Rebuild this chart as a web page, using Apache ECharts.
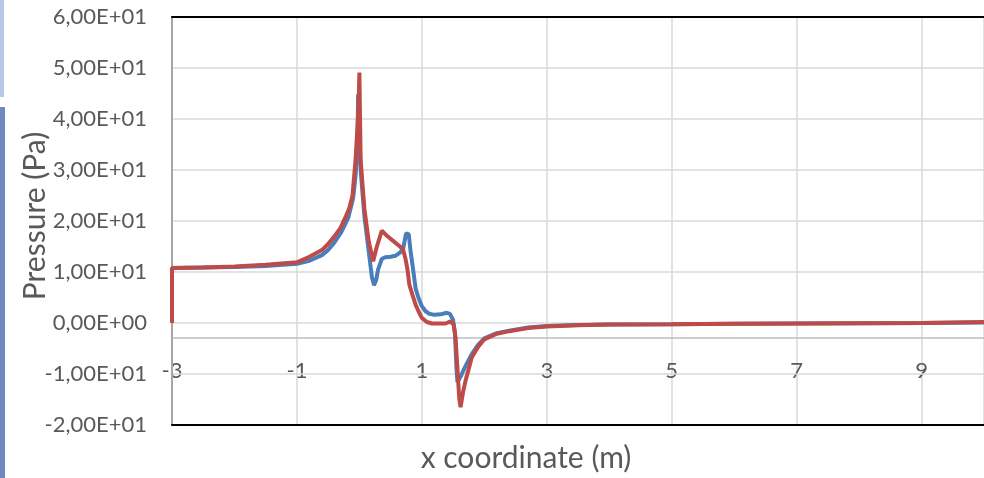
<!DOCTYPE html>
<html>
<head>
<meta charset="utf-8">
<script src="https://cdn.jsdelivr.net/npm/echarts@6/dist/echarts.min.js"></script>
<style>html,body{margin:0;padding:0;background:#fff;}#c{width:984px;height:478px;}</style>
</head>
<body>
<div id="c"></div>
<script>
// Series 1 (blue)
const blueX = [-3, -3, -2.5, -2, -1.5, -1, -0.8, -0.6, -0.5, -0.4, -0.3, -0.25, -0.18, -0.15, -0.1, -0.06, -0.03, -0.02, 0.02, 0.08, 0.15, 0.2, 0.235, 0.27, 0.3, 0.36, 0.42, 0.5, 0.58, 0.65, 0.7, 0.73, 0.75, 0.79, 0.82, 0.85, 0.9, 0.95, 1.0, 1.06, 1.12, 1.2, 1.3, 1.4, 1.45, 1.5, 1.53, 1.555, 1.57, 1.62, 1.7, 1.8, 1.9, 2.0, 2.2, 2.4, 2.7, 3.0, 3.5, 4, 5, 6, 7, 8, 9, 10];
const blueY = [0, 10.8, 10.9, 11.0, 11.2, 11.6, 12.2, 13.3, 14.3, 15.8, 17.6, 18.8, 20.6, 22.0, 24.5, 29.0, 35.0, 44.8, 30.0, 21.0, 14.0, 9.0, 7.4, 8.5, 10.5, 12.6, 12.9, 13.0, 13.2, 13.8, 14.5, 16.5, 17.6, 17.4, 14.0, 11.4, 6.8, 4.8, 3.3, 2.3, 1.8, 1.6, 1.7, 2.0, 1.8, 0.6, -2.0, -9.0, -11.6, -10.5, -8.4, -6.1, -4.3, -3.0, -2.0, -1.5, -0.9, -0.6, -0.4, -0.3, -0.25, -0.15, -0.1, -0.05, 0.0, 0.1];
// Series 2 (red)
const redX = [-3, -3, -2.5, -2, -1.5, -1, -0.8, -0.6, -0.5, -0.4, -0.3, -0.22, -0.16, -0.11, -0.06, -0.03, -0.01, 0.0, 0.02, 0.08, 0.15, 0.22, 0.28, 0.36, 0.45, 0.55, 0.65, 0.7, 0.74, 0.77, 0.8, 0.85, 0.9, 0.95, 1.0, 1.08, 1.16, 1.25, 1.38, 1.46, 1.51, 1.54, 1.57, 1.6, 1.62, 1.66, 1.7, 1.8, 1.9, 2.0, 2.2, 2.4, 2.7, 3.0, 3.5, 4, 5, 6, 7, 8, 9, 10];
const redY = [0, 10.8, 10.9, 11.1, 11.4, 11.9, 13.0, 14.3, 15.5, 17.0, 18.7, 20.8, 22.6, 25.0, 32.2, 38.6, 44.0, 49.1, 32.0, 22.4, 16.0, 12.1, 15.0, 18.1, 17.0, 16.0, 15.0, 14.4, 12.5, 10.5, 7.5, 5.5, 3.6, 2.2, 1.0, 0.2, -0.1, -0.1, -0.1, 0.3, -0.3, -3.0, -9.0, -15.0, -16.5, -13.5, -11.3, -6.7, -4.7, -3.2, -2.1, -1.6, -1.0, -0.7, -0.45, -0.3, -0.25, -0.15, -0.1, -0.05, 0.0, 0.2];

const xMin = -3, xMax = 10, xStep = 2;
const yMin = -20, yMax = 60, yStep = 10;
const xCross = -3; // horizontal axis crosses vertical at this value
const xTitle = 'x coordinate (m)';
const yTitle = 'Pressure (Pa)';

function sci(v) {
  if (v === 0) return '0,00E+00';
  const e = Math.floor(Math.log10(Math.abs(v)) + 1e-9);
  const m = v / Math.pow(10, e);
  return m.toFixed(2).replace('.', ',') + 'E' + (e < 0 ? '-' : '+') + String(Math.abs(e)).padStart(2, '0');
}

const gTop = 17, gH = 411, gLeft = 172;
const gW = (xMax - xMin) * 62.75;
const crossOffset = -((xCross - yMin) / (yMax - yMin)) * gH;
const font = 'Lato';
const txt = '#595959';
const tickSize = 22, titleSize = 30;

const chart = echarts.init(document.getElementById('c'), null, {renderer: 'canvas'});
chart.setOption({
  animation: false,
  backgroundColor: '#fff',
  textStyle: {fontFamily: font},
  graphic: [
    {type: 'rect', shape: {x: 0, y: 0, width: 4, height: 97}, style: {fill: '#b7c7e6'}, z: 100},
    {type: 'rect', shape: {x: 0, y: 107, width: 5, height: 371}, style: {fill: '#7189c1'}, z: 100}
  ],
  grid: {left: gLeft, top: gTop, width: gW, height: gH, containLabel: false},
  xAxis: [
    {
      type: 'value', min: xMin, max: xMax, interval: xStep, position: 'bottom', offset: crossOffset,
      axisLine: {show: true, onZero: false, lineStyle: {color: '#bfbfbf', width: 1.5}},
      axisTick: {show: false},
      axisLabel: {show: true, color: txt, fontSize: tickSize, fontFamily: font, margin: 22, showMaxLabel: false},
      splitLine: {show: true, lineStyle: {color: '#d9d9d9', width: 1.5}},
      z: 3
    },
    {
      type: 'value', min: xMin, max: xMax, position: 'top', offset: 0,
      axisLine: {show: true, onZero: false, lineStyle: {color: '#000', width: 2}},
      axisTick: {show: false}, axisLabel: {show: false}, splitLine: {show: false},
      z: 10
    },
    {
      type: 'value', min: xMin, max: xMax, position: 'bottom', offset: 0,
      axisLine: {show: true, onZero: false, lineStyle: {color: '#000', width: 2}},
      axisTick: {show: false}, axisLabel: {show: false}, splitLine: {show: false},
      name: xTitle, nameLocation: 'middle', nameGap: 18, nameMoveOverlap: false,
      nameTextStyle: {color: txt, fontSize: titleSize, fontFamily: font, padding: [0, 104, 0, 0]},
      z: 10
    }
  ],
  yAxis: {
    type: 'value', min: yMin, max: yMax, interval: yStep, position: 'left',
    axisLine: {show: true, onZero: false, lineStyle: {color: '#a6a6a6', width: 2}},
    axisTick: {show: false},
    axisLabel: {color: txt, fontSize: tickSize, fontFamily: font, margin: 25, formatter: sci},
    splitLine: {show: true, lineStyle: {color: '#d9d9d9', width: 1.5}},
    name: yTitle, nameLocation: 'middle', nameGap: 122, nameMoveOverlap: false,
    nameTextStyle: {color: txt, fontSize: titleSize, fontFamily: font, padding: [0, 0, 0, 10]},
    z: 4
  },
  series: [
    {
      type: 'line', name: 'blue', xAxisIndex: 0, yAxisIndex: 0, showSymbol: false, symbol: 'none',
      clip: false, data: blueX.map((x, i) => [x, blueY[i]]),
      lineStyle: {color: '#4a7ebb', width: 4}, itemStyle: {color: '#4a7ebb'}, z: 5
    },
    {
      type: 'line', name: 'red', xAxisIndex: 0, yAxisIndex: 0, showSymbol: false, symbol: 'none',
      clip: false, data: redX.map((x, i) => [x, redY[i]]),
      lineStyle: {color: '#be4b48', width: 4}, itemStyle: {color: '#be4b48'}, z: 6
    }
  ]
});
</script>
</body>
</html>
